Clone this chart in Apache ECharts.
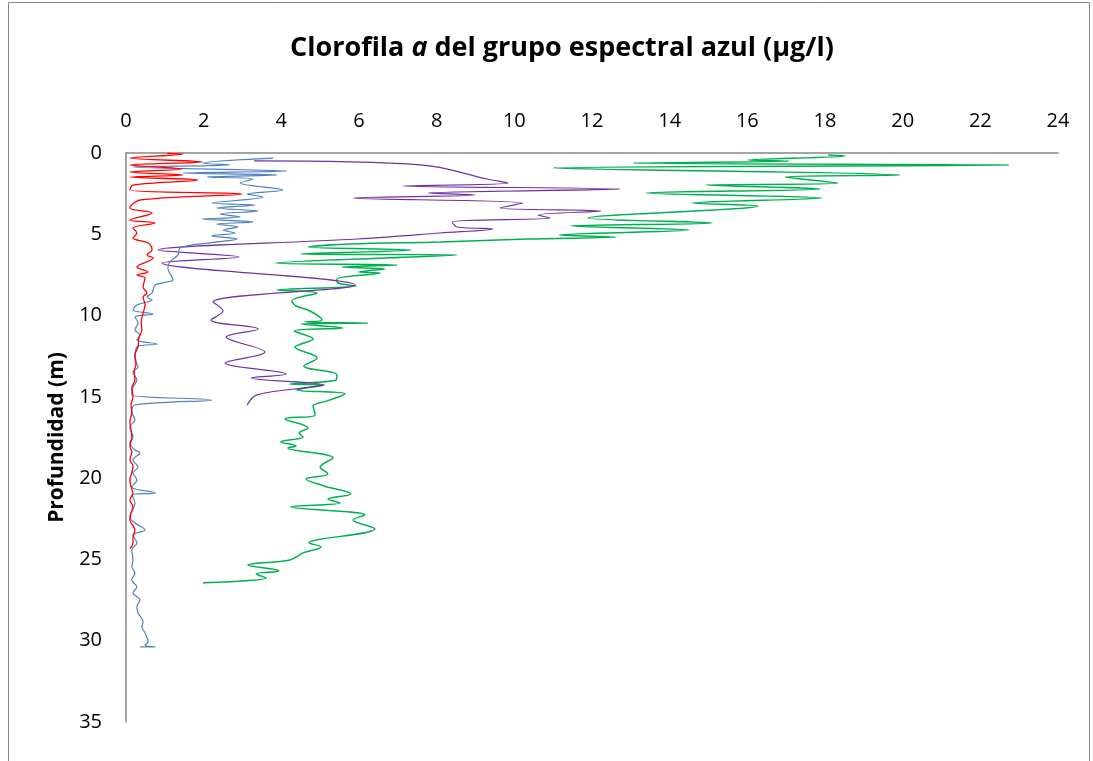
<!DOCTYPE html>
<html>
<head>
<meta charset="utf-8">
<script src="https://cdn.jsdelivr.net/npm/echarts@6/dist/echarts.min.js"></script>
<style>
html,body{margin:0;padding:0;background:#fff;}
#chart{width:1093px;height:761px;}
</style>
</head>
<body>
<div id="chart"></div>
<script>
// Axis setup (µg/l on top, depth in m inverted)
const xMin = 0, xMax = 24, xStep = 2;
const yMin = 0, yMax = 35, yStep = 5;
const yAxisName = 'Profundidad (m)';

// Series: [concentration µg/l, depth m]
const rojo = [
  [1.06,0.02],[1.47,0.06],[0.10,0.31],[1.96,0.55],[0.10,0.74],[1.44,0.98],[0.10,1.17],[1.47,1.35],
  [0.10,1.48],[1.85,1.66],[0.18,1.97],[0.10,2.28],[2.99,2.52],[0.36,2.89],[0.10,3.38],[0.67,3.69],
  [0.10,4.12],[0.75,4.31],[0.18,4.61],[0.28,4.92],[0.18,5.23],[0.57,5.54],[0.67,5.97],[0.54,6.27],
  [0.70,6.46],[0.28,7.01],[0.57,7.32],[0.28,7.50],[0.49,7.69],[0.44,8.24],[0.54,8.61],[0.44,8.86],
  [0.49,9.35],[0.44,9.84],[0.39,10.39],[0.41,10.89],[0.33,11.38],[0.31,11.93],[0.23,12.42],[0.26,12.92],
  [0.21,13.47],[0.23,13.96],[0.15,14.45],[0.18,15.01],[0.13,15.50],[0.15,15.99],[0.10,16.48],[0.13,17.04],
  [0.15,17.53],[0.10,18.02],[0.15,18.39],[0.10,18.88],[0.18,19.25],[0.15,19.68],[0.10,20.11],[0.13,20.54],
  [0.18,20.91],[0.10,21.34],[0.18,21.77],[0.13,22.14],[0.10,22.57],[0.23,23.19],[0.18,23.62],[0.18,23.99],
  [0.10,24.35]
];
const azul = [
  [3.79,0.31],[1.98,0.62],[2.68,0.74],[0.18,0.86],[4.15,1.11],[1.47,1.23],[3.89,1.35],[2.09,1.48],
  [3.27,1.60],[2.94,1.85],[4.04,2.28],[3.12,2.52],[3.53,2.71],[2.21,3.08],[3.32,3.20],[2.34,3.38],
  [3.40,3.57],[2.42,3.75],[2.94,3.94],[1.96,4.06],[3.27,4.24],[2.34,4.37],[2.88,4.55],[2.50,4.74],
  [2.81,4.92],[2.21,5.10],[2.86,5.29],[2.09,5.54],[1.39,5.84],[1.34,6.27],[1.13,6.70],[1.08,7.07],
  [1.21,7.81],[1.06,7.93],[0.75,8.12],[0.67,8.61],[0.54,8.86],[0.67,9.04],[0.28,9.35],[0.18,9.66],
  [0.70,9.90],[0.23,10.09],[0.31,10.45],[0.23,10.89],[0.36,11.19],[0.28,11.50],[0.80,11.75],[0.28,11.93],
  [0.23,12.73],[0.31,13.16],[0.18,13.47],[0.28,13.96],[0.15,14.58],[0.15,14.88],[2.21,15.19],[0.23,15.50],
  [0.15,15.93],[0.23,16.42],[0.10,16.85],[0.18,17.47],[0.10,17.84],[0.23,18.27],[0.36,18.45],[0.18,18.88],
  [0.31,19.31],[0.18,19.68],[0.28,20.11],[0.15,20.54],[0.75,20.91],[0.15,21.03],[0.23,21.53],[0.10,22.39],
  [0.23,22.76],[0.49,23.19],[0.18,23.49],[0.28,23.99],[0.15,24.42],[0.18,25.03],[0.15,25.46],[0.23,25.83],
  [0.15,26.26],[0.28,26.69],[0.18,27.06],[0.36,27.49],[0.28,27.92],[0.31,28.29],[0.44,28.84],[0.41,29.15],
  [0.49,29.52],[0.57,30.07],[0.49,30.26],[0.75,30.38],[0.36,30.38]
];
const morado = [
  [3.30,0.49],[7.65,0.74],[9.30,1.60],[9.84,1.85],[7.13,2.03],[12.72,2.21],[7.78,2.46],[8.99,2.58],
  [5.85,2.77],[10.22,3.08],[9.63,3.38],[12.23,3.57],[10.61,3.81],[10.92,4.00],[8.40,4.24],[8.52,4.55],
  [9.45,4.67],[8.09,4.92],[5.95,5.29],[0.82,5.97],[2.91,6.40],[0.93,6.77],[5.90,8.12],[2.24,9.16],
  [2.50,9.72],[2.19,10.27],[3.40,10.82],[2.58,11.32],[3.58,12.24],[2.55,12.92],[4.12,13.59],[3.22,13.84],
  [5.10,14.27],[4.79,14.39],[3.37,14.88],[3.12,15.50]
];
const verde = [
  [18.08,0.12],[18.52,0.18],[16.02,0.43],[17.07,0.49],[13.06,0.62],[22.74,0.74],[11.00,0.92],[19.93,1.35],
  [16.97,1.48],[18.34,1.85],[14.94,1.97],[17.87,2.21],[13.39,2.46],[17.92,2.77],[14.58,3.08],[16.28,3.26],
  [11.90,4.00],[15.09,4.31],[11.46,4.49],[14.50,4.74],[11.15,5.04],[12.62,5.17],[10.33,5.29],[8.09,5.47],
  [5.77,5.60],[4.69,5.78],[7.34,5.97],[4.51,6.21],[8.52,6.27],[3.84,6.77],[6.98,6.89],[5.56,7.01],
  [6.67,7.13],[6.00,7.32],[6.54,7.38],[5.43,7.75],[5.46,8.00],[5.92,8.18],[3.89,8.43],[4.92,8.61],
  [4.27,9.10],[4.38,9.41],[4.74,9.72],[5.05,10.27],[4.61,10.39],[6.23,10.46],[4.51,10.52],[5.59,10.76],
  [4.33,10.95],[4.82,11.44],[4.51,11.75],[4.35,11.93],[4.92,12.61],[4.58,13.10],[5.43,13.65],[5.41,13.96],
  [4.22,14.21],[5.10,14.27],[4.40,14.58],[5.64,14.82],[5.18,15.25],[4.82,15.56],[4.87,16.11],[4.09,16.36],
  [4.69,16.91],[4.46,17.22],[4.56,17.47],[3.99,17.77],[4.38,18.02],[4.17,18.14],[5.33,18.76],[5.00,19.31],
  [5.20,19.74],[4.64,20.05],[5.10,20.48],[5.79,20.97],[5.20,21.28],[5.51,21.53],[4.25,21.77],[6.15,22.26],
  [5.85,22.57],[6.41,23.12],[4.71,23.99],[5.02,24.23],[4.56,24.60],[4.22,25.03],[3.14,25.34],[3.94,25.71],
  [3.35,25.89],[3.61,26.14],[1.98,26.44]
];

const font = '"Open Sans", Lato, sans-serif';
const axisGray = '#868686';
const chart = echarts.init(document.getElementById('chart'), null, {renderer:'canvas'});

function mk(name, data, color, width){
  return {name, type:'line', data, smooth:0.35, showSymbol:false, symbol:'none',
    lineStyle:{color, width}, itemStyle:{color}, animation:false};
}

chart.setOption({
  backgroundColor:'#ffffff',
  animation:false,
  title:{
    text:'{b|Clorofila }{i|a}{b| del grupo espectral azul (µg/l)}',
    left:285, top:30,
    textStyle:{rich:{
      b:{fontFamily:font, fontWeight:'bold', fontSize:27, color:'#000'},
      i:{fontFamily:font, fontWeight:'bold', fontStyle:'italic', fontSize:27, color:'#000'}
    }}
  },
  graphic:[{type:'rect', shape:{x:8.5, y:2.5, width:1081, height:780},
    style:{fill:'none', stroke:axisGray, lineWidth:1}, silent:true}],
  grid:{left:126, right:35, top:153, bottom:39},
  xAxis:{
    type:'value', position:'top', min:xMin, max:xMax, interval:xStep,
    axisLine:{show:true, onZero:false, lineStyle:{color:axisGray, width:1.5}},
    axisTick:{show:false}, splitLine:{show:false},
    axisLabel:{fontFamily:font, fontSize:20, color:'#000', margin:22}
  },
  yAxis:{
    type:'value', inverse:true, min:yMin, max:yMax, interval:yStep,
    name:yAxisName, nameLocation:'middle', nameGap:58, nameRotate:90,
    nameTextStyle:{fontFamily:font, fontWeight:'bold', fontSize:21, color:'#000'},
    axisLine:{show:true, onZero:false, lineStyle:{color:axisGray, width:1.5}},
    axisTick:{show:false}, splitLine:{show:false},
    axisLabel:{fontFamily:font, fontSize:20, color:'#000', margin:24}
  },
  series:[
    mk('verde', verde, '#00B050', 1.5),
    mk('morado', morado, '#7030A0', 1.2),
    mk('azul', azul, '#4F81BD', 1.2),
    mk('rojo', rojo, '#FF0000', 1.3)
  ]
});
</script>
</body>
</html>
